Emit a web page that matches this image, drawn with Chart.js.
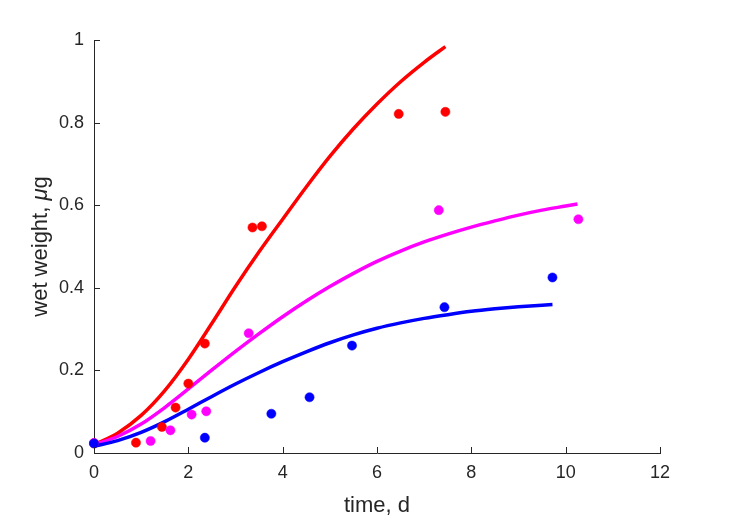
<!DOCTYPE html>
<html>
<head>
<meta charset="utf-8">
<script src="https://cdn.jsdelivr.net/npm/chart.js@4.4.0/dist/chart.umd.min.js"></script>
<style>
  html, body { margin: 0; padding: 0; background: #fff; }
  #wrap { width: 729px; height: 521px; }
</style>
</head>
<body>
<div id="wrap"><canvas id="weightChart"></canvas></div>
<script>
// observed wet weights
const redObsT = [0, 0.89, 1.44, 1.73, 2.0, 2.35, 3.36, 3.56, 6.46, 7.45];
const redObsW = [0.024, 0.025, 0.063, 0.11, 0.168, 0.265, 0.546, 0.549, 0.821, 0.826];
const magObsT = [0, 1.2, 1.62, 2.07, 2.38, 3.28, 7.31, 10.27];
const magObsW = [0.024, 0.029, 0.055, 0.093, 0.101, 0.29, 0.588, 0.566];
const blueObsT = [0, 2.35, 3.76, 4.57, 5.47, 7.43, 9.72];
const blueObsW = [0.023, 0.037, 0.095, 0.135, 0.26, 0.353, 0.425];

// fitted curves
const redFitT = [0, 0.5, 1, 1.5, 2, 2.5, 3, 3.5, 4, 4.5, 5, 5.5, 6, 6.5, 7, 7.45];
const redFitW = [0.02, 0.048, 0.091, 0.151, 0.227, 0.314, 0.403, 0.487, 0.566, 0.644, 0.718, 0.785, 0.845, 0.899, 0.946, 0.984];
const magFitT = [0, 0.5, 1, 1.5, 2, 2.5, 3, 3.5, 4, 4.5, 5, 5.5, 6, 6.5, 7, 7.5, 8, 8.5, 9, 9.5, 10, 10.25];
const magFitW = [0.02, 0.04, 0.07, 0.11, 0.155, 0.201, 0.246, 0.289, 0.33, 0.368, 0.403, 0.435, 0.464, 0.489, 0.511, 0.53, 0.547, 0.562, 0.576, 0.588, 0.598, 0.603];
const blueFitT = [0, 0.5, 1, 1.5, 2, 2.5, 3, 3.5, 4, 4.5, 5, 5.5, 6, 6.5, 7, 7.5, 8, 8.5, 9, 9.5, 9.72];
const blueFitW = [0.016, 0.03, 0.05, 0.076, 0.106, 0.137, 0.167, 0.195, 0.221, 0.245, 0.267, 0.286, 0.302, 0.315, 0.326, 0.335, 0.343, 0.349, 0.354, 0.358, 0.3595];

const xTickLabels = ['0', '2', '4', '6', '8', '10', '12'];
const yTickLabels = ['0', '0.2', '0.4', '0.6', '0.8', '1'];

const axisColor = '#262626';
const fontFamily = "'Liberation Sans', Arial, Helvetica, sans-serif";

function pairs(ts, ws) {
  return ts.map((t, i) => ({ x: t, y: ws[i] }));
}

function fitSet(ts, ws, color) {
  return {
    type: 'line',
    data: pairs(ts, ws),
    borderColor: color,
    borderWidth: 3.5,
    pointRadius: 0,
    cubicInterpolationMode: 'monotone',
    fill: false,
    clip: false,
    order: 2
  };
}

function obsSet(ts, ws, color, order) {
  return {
    type: 'scatter',
    data: pairs(ts, ws),
    backgroundColor: color,
    borderColor: color,
    borderWidth: 0.5,
    pointRadius: 4.6,
    pointHoverRadius: 4.6,
    clip: false,
    order: order
  };
}

// MATLAB style inward ticks and axis titles
const matlabAxes = {
  id: 'matlabAxes',
  afterDatasetsDraw(chart) {
    const { ctx, chartArea, scales } = chart;
    const len = 6;
    ctx.save();
    ctx.strokeStyle = axisColor;
    ctx.lineWidth = 1;
    ctx.beginPath();
    scales.x.ticks.forEach(t => {
      const px = Math.round(scales.x.getPixelForValue(t.value)) + 0.5;
      ctx.moveTo(px, chartArea.bottom);
      ctx.lineTo(px, chartArea.bottom - len);
    });
    scales.y.ticks.forEach(t => {
      const py = Math.round(scales.y.getPixelForValue(t.value)) + 0.5;
      ctx.moveTo(chartArea.left, py);
      ctx.lineTo(chartArea.left + len, py);
    });
    ctx.stroke();

    ctx.fillStyle = axisColor;
    ctx.textBaseline = 'middle';
    ctx.textAlign = 'center';
    ctx.font = '22px ' + fontFamily;
    ctx.fillText('time, d', (chartArea.left + chartArea.right) / 2, 506);

    // y title with italic mu
    const parts = [
      { s: 'wet weight, ', f: '22px ' + fontFamily },
      { s: 'μ', f: 'italic 22px ' + fontFamily },
      { s: 'g', f: '22px ' + fontFamily }
    ];
    let total = 0;
    parts.forEach(p => { ctx.font = p.f; p.w = ctx.measureText(p.s).width; total += p.w; });
    ctx.translate(41, (chartArea.top + chartArea.bottom) / 2);
    ctx.rotate(-Math.PI / 2);
    ctx.textAlign = 'left';
    let x = -total / 2;
    parts.forEach(p => { ctx.font = p.f; ctx.fillText(p.s, x, 0); x += p.w; });
    ctx.restore();
  }
};

new Chart(document.getElementById('weightChart'), {
  data: {
    datasets: [
      obsSet(blueObsT, blueObsW, '#0000ff', 0),
      obsSet(magObsT, magObsW, '#ff00ff', 1),
      obsSet(redObsT, redObsW, '#ff0000', 1),
      fitSet(blueFitT, blueFitW, '#0000ff'),
      fitSet(magFitT, magFitW, '#ff00ff'),
      fitSet(redFitT, redFitW, '#ff0000')
    ]
  },
  options: {
    responsive: true,
    maintainAspectRatio: false,
    animation: false,
    layout: { padding: { left: 0, top: 40, right: 69, bottom: 0 } },
    plugins: {
      legend: { display: false },
      tooltip: { enabled: false }
    },
    scales: {
      x: {
        type: 'linear',
        min: 0,
        max: 12,
        afterFit(scale) { scale.height = 68; },
        grid: { display: false, drawTicks: false },
        border: { display: true, color: axisColor, width: 1 },
        ticks: {
          stepSize: 2,
          padding: 9,
          color: axisColor,
          font: { family: fontFamily, size: 18 },
          callback: v => xTickLabels[Math.round(v / 2)]
        }
      },
      y: {
        type: 'linear',
        min: 0,
        max: 1,
        afterFit(scale) { scale.width = 94; },
        grid: { display: false, drawTicks: false },
        border: { display: true, color: axisColor, width: 1 },
        ticks: {
          stepSize: 0.2,
          padding: 10,
          color: axisColor,
          font: { family: fontFamily, size: 18 },
          callback: v => yTickLabels[Math.round(v * 5)]
        }
      }
    }
  },
  plugins: [matlabAxes]
});
</script>
</body>
</html>
